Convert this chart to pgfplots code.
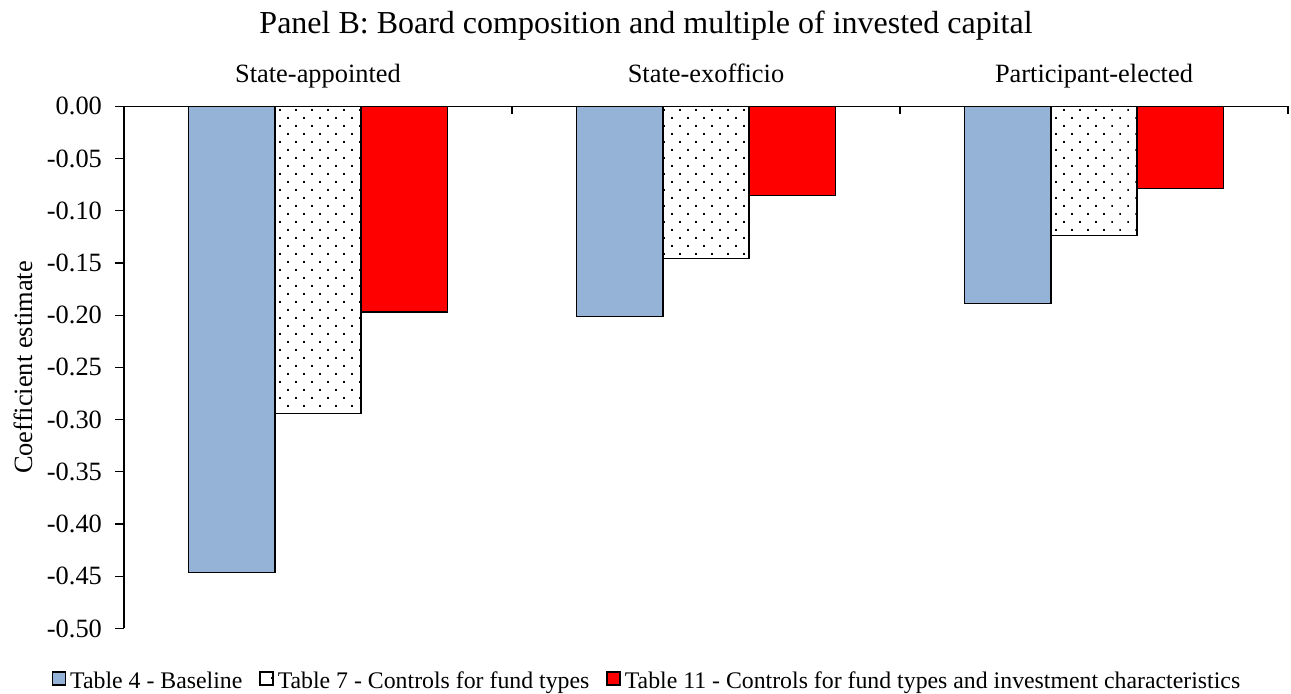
\documentclass[border=0pt]{standalone}
\usepackage{fontspec}
\setmainfont{Liberation Serif}
\usepackage{pgfplots}
\pgfplotsset{compat=1.18}
\usetikzlibrary{patterns.meta}
\definecolor{barblue}{HTML}{95B3D7}
\definecolor{barred}{HTML}{FF0000}

\begin{document}
\begin{tikzpicture}
\begin{axis}[
  at={(62pt,32.75pt)}, anchor=south west,
  scale only axis, width=582pt, height=261.1pt,
  xmin=0.5, xmax=3.5, ymin=-0.5, ymax=0,
  axis x line*=top, axis y line*=left,
  axis line style={line width=0.6pt, black},
  ybar=0pt, bar width=0.2224,
  xtick={1,2,3},
  xticklabels={State-appointed,State-exofficio,Participant-elected},
  major x tick style={draw=none},
  minor xtick={1.5,2.5,3.5},
  minor tick length=3.9pt,
  minor x tick style={yshift=-3.9pt, line width=0.6pt, black},
  ytick={-0.50,-0.45,-0.40,-0.35,-0.30,-0.25,-0.20,-0.15,-0.10,-0.05,0},
  tick align=outside, major tick length=4.5pt,
  major y tick style={line width=0.6pt, black},
  xticklabel style={font=\fontsize{13.2}{15}\selectfont, anchor=base, yshift=7.15pt},
  yticklabel style={font=\fontsize{13.2}{15}\selectfont, xshift=-3pt,
    /pgf/number format/.cd, fixed, fixed zerofill, precision=2, assume math mode=true},
  ylabel={Coefficient estimate},
  ylabel style={at={(axis description cs:-0.079,0.5)}, anchor=base, font=\fontsize{13.2}{15}\selectfont},
  title={Panel B: Board composition and multiple of invested capital},
  title style={at={(axis description cs:0.4485,1.1155)}, anchor=base, font=\fontsize{16}{19}\selectfont},
  legend style={at={(axis description cs:0.4502,-0.1015)}, anchor=center, draw=none, fill=none,
    legend columns=-1, font=\fontsize{11.9}{14}\selectfont,
    /tikz/every even column/.append style={column sep=6.5pt}},
  legend image code/.code={\draw[#1, line width=0.7pt] (0pt,-1.75pt) rectangle (6.5pt,4.75pt);},
]
\addplot[fill=barblue, draw=black, line width=0.75pt] coordinates {(1,-0.4466) (2,-0.2015) (3,-0.1890)};
\addplot[pattern={Dots[distance=5.657pt, angle=45, radius=0.55pt]}, draw=black, line width=0.75pt] coordinates {(1,-0.2940) (2,-0.1455) (3,-0.1239)};
\addplot[fill=barred, draw=black, line width=0.75pt] coordinates {(1,-0.1970) (2,-0.0856) (3,-0.0785)};
\legend{Table 4 - Baseline, Table 7 - Controls for fund types, Table 11 - Controls for fund types and investment characteristics}
\end{axis}
\pgfresetboundingbox
\useasboundingbox (0,0) rectangle (645.5pt,347pt);
\end{tikzpicture}
\end{document}
